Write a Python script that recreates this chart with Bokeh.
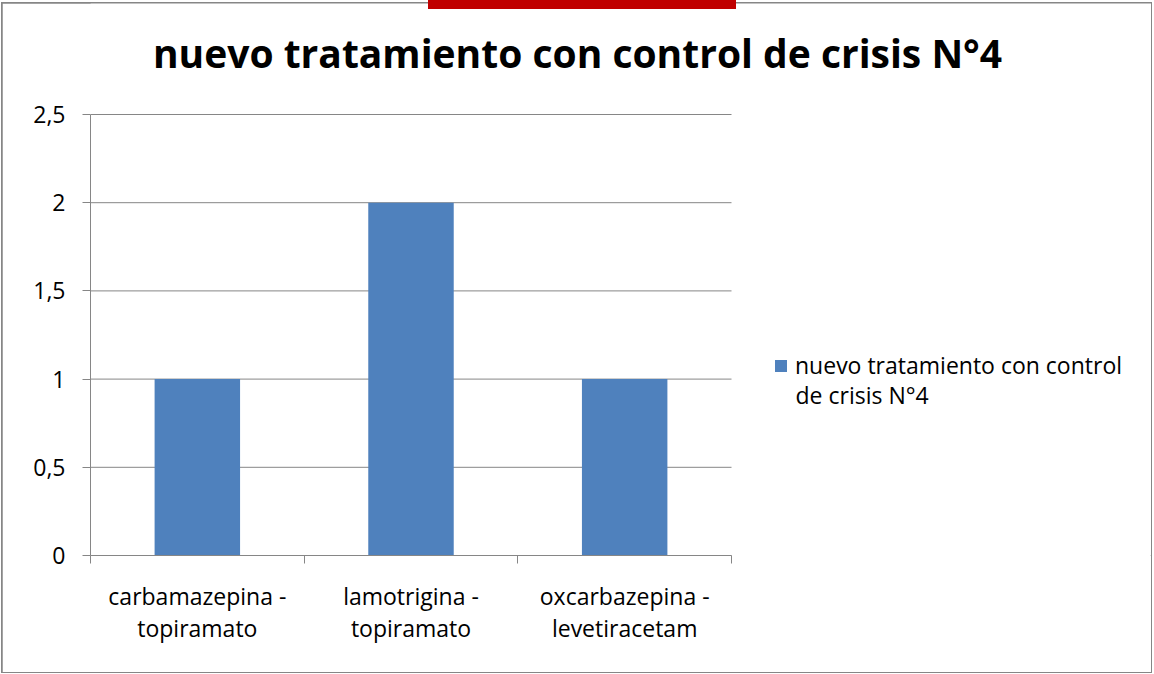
from bokeh.plotting import figure
from bokeh.models import FixedTicker, Range1d, Legend, LegendItem, Label, InlineStyleSheet
from bokeh.embed import file_html
from bokeh.resources import INLINE

# ---- data ----
categories = ["carbamazepina -\ntopiramato", "lamotrigina -\ntopiramato", "oxcarbazepina -\nlevetiracetam"]
values = [1, 2, 1]
y_ticks = [0, 0.5, 1, 1.5, 2, 2.5]
y_tick_labels = ["0", "0,5", "1", "1,5", "2", "2,5"]
series_line1 = "nuevo tratamiento con control"
series_line2 = "de crisis N°4"
title_text = "nuevo tratamiento con control de crisis N°4"
y_max = 2.5

# ---- layout / style ----
FONT = "Open Sans"
GRAY = "#868686"
BAR = "#4F81BD"
W, H = 1149, 669          # chart box
ML, MB = 88, 117          # space for axes
PLOT_W, PLOT_H = 641, 441 # size of the plotting area (axes extent)

n = len(categories)
xs = [i + 0.5 for i in range(n)]
frame_w = W - ML
frame_h = H - MB

p = figure(width=W, height=H, output_backend="svg", toolbar_location=None,
           x_range=Range1d(0, n * frame_w / PLOT_W),
           y_range=Range1d(0, y_max * frame_h / PLOT_H),
           min_border_left=ML, min_border_right=0,
           min_border_top=0, min_border_bottom=MB, title=None)
p.styles = {"margin": "3px 0px 0px 2px"}
p.stylesheets = [InlineStyleSheet(css="""
:host { outline: 2px solid #868686; outline-offset: -1px; }
:host::before { content: ''; position: absolute; left: 426px; top: -3px;
  width: 308px; height: 9px; background: #C00000; z-index: 50; }
""")]
p.outline_line_color = None
p.background_fill_color = "white"
p.border_fill_color = "white"
p.xgrid.visible = False
p.ygrid.visible = False

# grid lines (at the y ticks, across the categories)
p.segment(x0=[0] * len(y_ticks), x1=[n] * len(y_ticks), y0=y_ticks, y1=y_ticks,
          line_color=GRAY, line_width=1)

r = p.vbar(x=xs, top=values, width=0.4, bottom=0, fill_color=BAR, line_color=None)

# y axis
ya = p.yaxis[0]
ya.bounds = (0, y_max)
ya.ticker = FixedTicker(ticks=y_ticks, minor_ticks=[])
ya.major_label_overrides = {t: l for t, l in zip(y_ticks, y_tick_labels)}
ya.axis_line_color = GRAY
ya.major_tick_line_color = GRAY
ya.major_tick_out = 8
ya.major_tick_in = 0
ya.minor_tick_line_color = None
ya.major_label_text_font = FONT
ya.major_label_text_font_size = "23px"
ya.major_label_text_color = "black"
ya.major_label_standoff = 17

# x axis
xa = p.xaxis[0]
xa.bounds = (0, n)
xa.ticker = FixedTicker(ticks=xs, minor_ticks=list(range(n + 1)))
xa.major_label_overrides = {x: c for x, c in zip(xs, categories)}
xa.axis_line_color = GRAY
xa.major_tick_line_color = None
xa.major_tick_out = 0
xa.major_tick_in = 0
xa.minor_tick_line_color = GRAY
xa.minor_tick_out = 8
xa.minor_tick_in = 0
xa.major_label_text_font = FONT
xa.major_label_text_font_size = "23px"
xa.major_label_text_color = "black"
xa.major_label_text_line_height = 1.0
xa.major_label_standoff = 16

# title (screen units, relative to the frame's bottom-left)
p.add_layout(Label(x=487, y=503, x_units="screen", y_units="screen",
                   text=title_text, text_align="center", text_baseline="alphabetic",
                   text_font=FONT, text_font_style="bold", text_font_size="39px",
                   text_color="black"))

# legend
legend = Legend(items=[LegendItem(label=series_line1, renderers=[r])],
                location=(683, 174), border_line_color=None,
                background_fill_alpha=0, padding=0, margin=0, spacing=0,
                glyph_width=15, glyph_height=15, label_standoff=7,
                label_text_font=FONT, label_text_font_size="23px",
                label_text_color="black")
p.add_layout(legend, "center")
p.add_layout(Label(x=705, y=161, x_units="screen", y_units="screen",
                   text=series_line2, text_align="left", text_baseline="alphabetic",
                   text_font=FONT, text_font_size="23px", text_color="black"))

open("out.html", "w").write(file_html(p, INLINE))
